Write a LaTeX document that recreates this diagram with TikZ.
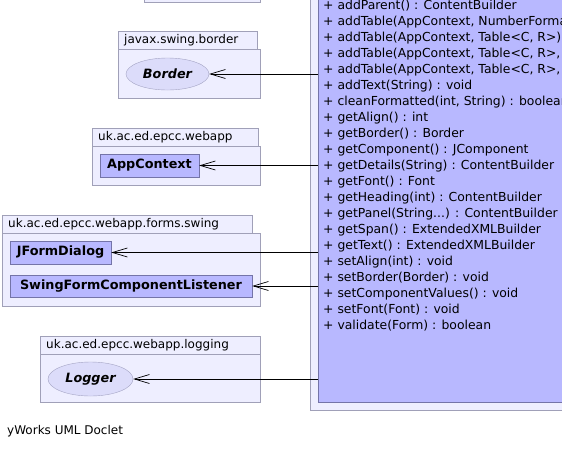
\documentclass[tikz,border=0pt]{standalone}
\usepackage{fontspec}
\setmainfont{DejaVu Sans}
\usetikzlibrary{arrows.meta}
\usetikzlibrary{shapes.geometric}

\definecolor{pkgfill}{HTML}{EEEEFF}
\definecolor{pkgline}{HTML}{A0A0B8}
\definecolor{classfill}{HTML}{B8B8FF}
\definecolor{classline}{HTML}{7474A8}
\definecolor{ifacefill}{HTML}{DCDCFA}
\definecolor{ifaceline}{HTML}{A4A4C4}
\newcommand{\vardots}{...}

\begin{document}
\begin{tikzpicture}[x=1pt, y=-1pt, every node/.style={font=\fontsize{12.4}{15}\selectfont, inner sep=0pt},
		pkgbody/.style={draw=pkgline, fill=pkgfill, anchor=north west},
		pkgtab/.style={draw=pkgline, fill=pkgfill, anchor=south west, minimum height=18pt, inner xsep=6pt, align=left, font=\fontsize{12}{14}\selectfont},
		classbox/.style={draw=classline, fill=classfill, font=\fontsize{12.8}{15}\bfseries},
		ifacebox/.style={draw=ifaceline, fill=ifacefill, ellipse, font=\fontsize{12.8}{15}\bfseries\itshape},
		dep/.style={{Straight Barb[length=15pt, width=9pt]}-, line width=0.7pt}]
		\useasboundingbox (0,0) rectangle (562,448);
		\clip (0,0) rectangle (562,448);
		% packages
		\node[pkgbody, minimum width=116pt, minimum height=22pt] (toppkg) at (144,-20) {};
		\node[pkgbody, minimum width=142pt, minimum height=49pt] (borderpkg) at (118,49) {};
		\node[pkgtab, text width=127pt] at (borderpkg.north west) {javax.swing.border};
		\node[pkgbody, minimum width=168pt, minimum height=39pt] (webapppkg) at (92,146) {};
		\node[pkgtab, text width=154pt] at (webapppkg.north west) {uk.ac.ed.epcc.webapp};
		\node[pkgbody, minimum width=258pt, minimum height=73pt] (swingpkg) at (2,233) {};
		\node[pkgtab, text width=238pt] at (swingpkg.north west) {uk.ac.ed.epcc.webapp.forms.swing};
		\node[pkgbody, minimum width=220pt, minimum height=48pt] (loggingpkg) at (40,354) {};
		\node[pkgtab, text width=208pt] at (loggingpkg.north west) {uk.ac.ed.epcc.webapp.logging};
		% classes
		\node[ifacebox, minimum width=83pt, minimum height=32pt] (border) at (167.5,74) {Border};
		\node[classbox, minimum width=99pt, minimum height=23pt] (appcontext) at (149.5,165.5) {AppContext};
		\node[classbox, minimum width=101pt, minimum height=23pt] (jformdialog) at (60.5,252.5) {JFormDialog};
		\node[classbox, minimum width=242pt, minimum height=22pt] (listener) at (131,286) {SwingFormComponentListener};
		\node[ifacebox, minimum width=85pt, minimum height=34pt] (logger) at (90.5,379) {Logger};
		% main class
		\node[pkgbody, anchor=south west, minimum width=300pt, minimum height=430pt] (builderpkg) at (310,410) {};
		\node[classbox, anchor=south west, minimum width=290pt, minimum height=420pt] (builder) at (318,402) {};
		\foreach \m [count=\i from 0] in {addParent() : ContentBuilder, {addTable(AppContext, NumberForma}, {addTable(AppContext, Table<C, R>)}, {addTable(AppContext, Table<C, R>,}, {addTable(AppContext, Table<C, R>,}, addText(String) : void, {cleanFormatted(int, String) : boolean}, getAlign() : int, getBorder() : Border, getComponent() : JComponent, getDetails(String) : ContentBuilder, getFont() : Font, getHeading(int) : ContentBuilder, getPanel(String\vardots) : ContentBuilder, getSpan() : ExtendedXMLBuilder, getText() : ExtendedXMLBuilder, setAlign(int) : void, setBorder(Border) : void, setComponentValues() : void, setFont(Font) : void, validate(Form) : boolean}
			\node[anchor=base west] (m\i) at (323,{9.2+16*\i}) {+ \m};
		% dependencies
		\draw[dep] (border) -- (border -| builder.west);
		\draw[dep] (appcontext) -- (appcontext -| builder.west);
		\draw[dep] (jformdialog) -- (jformdialog -| builder.west);
		\draw[dep] (listener) -- (listener -| builder.west);
		\draw[dep] (logger) -- (logger -| builder.west);
		\node[anchor=west, font=\fontsize{12}{14}\selectfont] (doclet) at (7,431) {yWorks UML Doclet};
	\end{tikzpicture}
\end{document}
